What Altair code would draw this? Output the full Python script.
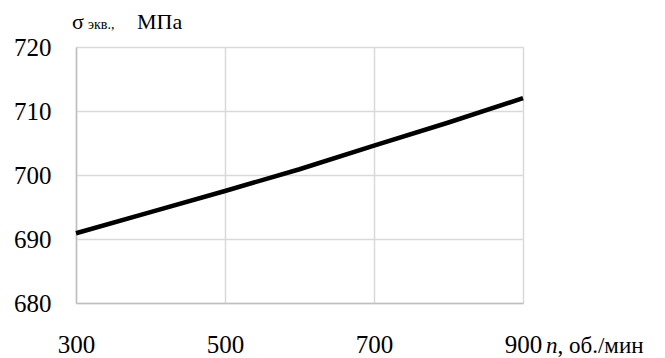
import altair as alt
import pandas as pd

# data
n_rpm = [300, 400, 500, 600, 700, 800, 900]
sigma = [690.9, 694.2, 697.5, 700.9, 704.6, 708.2, 712.0]
x_ticks = [300, 500, 700, 900]
y_ticks = [680, 690, 700, 710, 720]

df = pd.DataFrame({"n": n_rpm, "s": sigma})

FONT = "Liberation Serif"
W, H = 447, 256

base = alt.Chart(df)

line = base.mark_line(color="black", strokeWidth=4.5).encode(
    x=alt.X("n:Q", scale=alt.Scale(domain=[300, 900], nice=False, zero=False),
            axis=alt.Axis(values=x_ticks, title=None, ticks=False, tickSize=0,
                          labelFont=FONT, labelFontSize=25, labelColor="black",
                          labelBaseline="alphabetic", labelPadding=49,
                          labelFlush=False,
                          domainColor="#bfbfbf", domainWidth=1.5,
                          gridColor="#d9d9d9", gridWidth=1.5)),
    y=alt.Y("s:Q", scale=alt.Scale(domain=[680, 720], nice=False, zero=False),
            axis=alt.Axis(values=y_ticks, title=None, ticks=False, tickSize=0,
                          labelFont=FONT, labelFontSize=25, labelColor="black",
                          labelPadding=25, labelFlush=False,
                          domainColor="#bfbfbf", domainWidth=1.5,
                          gridColor="#d9d9d9", gridWidth=1.5)),
)

def txt(s, x, y, size, style="normal"):
    return alt.Chart(pd.DataFrame({"t": [s]})).mark_text(
        font=FONT, fontSize=size, fontStyle=style, align="left",
        baseline="alphabetic", color="black"
    ).encode(text="t:N", x=alt.value(x), y=alt.value(y))

labels = [
    txt("σ", -4, -18.5, 22),
    txt("экв.,", 12, -18.5, 14),
    txt("МПа", 61, -18.5, 22),
    txt("n", 470, 305.5, 23, "italic"),
    txt(", об./мин", 481.5, 305.5, 23),
]

chart = alt.layer(line, *labels).properties(
    width=W, height=H,
    autosize=alt.AutoSizeParams(type="none"),
    padding={"left": 68, "top": 39, "right": 126, "bottom": 56},
).configure_view(stroke=None).configure(background="white")

chart.save("out.html", embed_options={"renderer": "svg", "actions": False})
